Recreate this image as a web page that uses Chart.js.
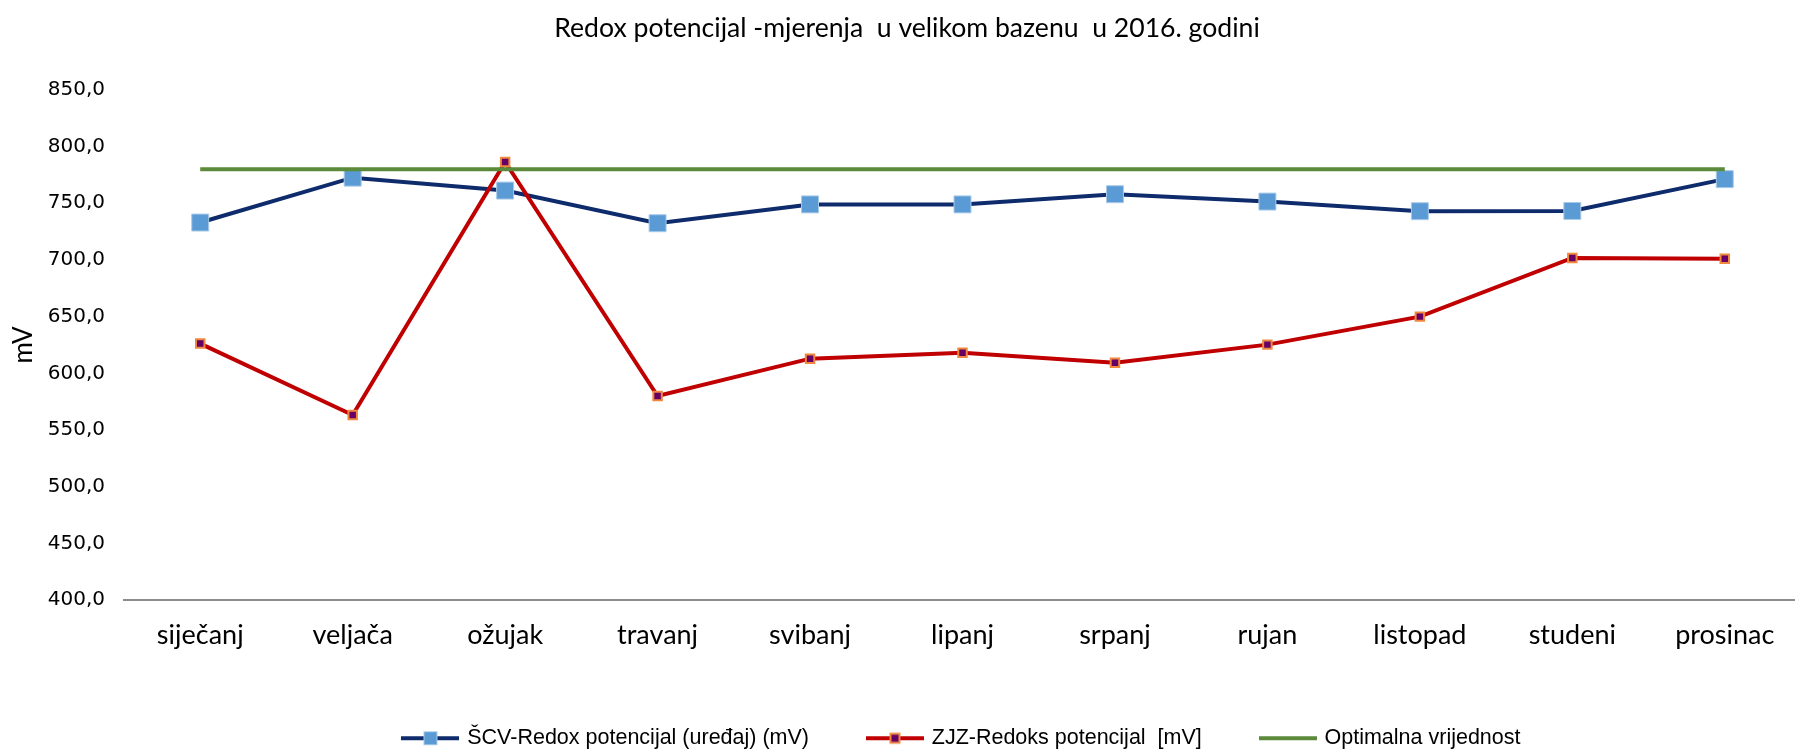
<!DOCTYPE html>
<html lang="hr">
<head>
  <meta charset="UTF-8">
  <title>Redox potencijal - veliki bazen 2016</title>
  <script src="https://cdn.jsdelivr.net/npm/chart.js"></script>
  <style>
    html, body { margin: 0; padding: 0; background: #ffffff; overflow: hidden; }
    .wrap { width: 1814px; height: 750px; }
  </style>
</head>
<body>
  <div class="wrap"><canvas id="redoxChart" width="1814" height="750"></canvas></div>

  <script>
    // Data
    const months = ['siječanj', 'veljača', 'ožujak', 'travanj', 'svibanj', 'lipanj',
                    'srpanj', 'rujan', 'listopad', 'studeni', 'prosinac'];
    const scvRedox = [733.0, 772.6, 761.2, 732.4, 749.0, 749.0, 758.0, 751.5, 743.0, 743.2, 771.3];
    const zjzRedox = [626.2, 563.2, 786.5, 580.0, 612.9, 618.2, 609.4, 625.3, 650.0, 701.8, 701.0];
    const optimum  = [780, 780, 780, 780, 780, 780, 780, 780, 780, 780, 780];
    const yMin = 400, yMax = 850, yStep = 50;

    const seriesNames = ['ŠCV-Redox potencijal (uređaj) (mV)', 'ZJZ-Redoks potencijal  [mV]', 'Optimalna vrijednost'];

    // little line + marker pictures for the legend
    function legendSample(lineColor, fill, stroke, side, strokeW) {
      const c = document.createElement('canvas');
      c.width = 58; c.height = 18;
      const g = c.getContext('2d');
      g.strokeStyle = lineColor;
      g.lineWidth = 4;
      g.beginPath(); g.moveTo(0, 9); g.lineTo(58, 9); g.stroke();
      if (side) {
        g.fillStyle = fill;
        g.fillRect(29 - side / 2, 9 - side / 2, side, side);
        g.strokeStyle = stroke;
        g.lineWidth = strokeW;
        g.strokeRect(29 - side / 2, 9 - side / 2, side, side);
      }
      return c;
    }
    const samples = [
      legendSample('#0e2b6c', '#5b9bd5', '#a9cbe9', 13, 1),
      legendSample('#c00000', '#660066', '#f0883e', 9, 2),
      legendSample('#5a8a3a', null, null, 0, 0)
    ];

    // nudge legend down a little, like the original
    const legendNudge = {
      id: 'legendNudge',
      afterLayout(chart) {
        chart.legend.top += 9;
        chart.legend.bottom += 9;
      }
    };

    Chart.defaults.color = '#000000';
    Chart.defaults.animation = false;

    new Chart(document.getElementById('redoxChart'), {
      type: 'line',
      data: {
        labels: months,
        datasets: [
          {
            label: seriesNames[0],
            data: scvRedox,
            borderColor: '#0e2b6c',
            borderWidth: 4,
            pointStyle: 'rect',
            pointRadius: 12,
            pointBackgroundColor: '#5b9bd5',
            pointBorderColor: '#a9cbe9',
            pointBorderWidth: 1,
            tension: 0,
            order: 3
          },
          {
            label: seriesNames[1],
            data: zjzRedox,
            borderColor: '#c00000',
            borderWidth: 4,
            pointStyle: 'rect',
            pointRadius: 6,
            pointBackgroundColor: '#660066',
            pointBorderColor: '#f0883e',
            pointBorderWidth: 2,
            tension: 0,
            order: 2
          },
          {
            label: seriesNames[2],
            data: optimum,
            borderColor: '#5a8a3a',
            borderWidth: 4,
            pointRadius: 0,
            tension: 0,
            order: 1
          }
        ]
      },
      options: {
        responsive: false,
        devicePixelRatio: 1,
        layout: { padding: 0 },
        plugins: {
          title: {
            display: true,
            text: 'Redox potencijal -mjerenja  u velikom bazenu  u 2016. godini',
            font: { family: 'Lato', size: 26.6, weight: 'normal' },
            color: '#000000',
            padding: { top: 12, bottom: 46 }
          },
          legend: {
            position: 'bottom',
            fullSize: false,
            labels: {
              usePointStyle: true,
              pointStyleWidth: 52,
              padding: 60,
              font: { family: "'Liberation Sans', Arial", size: 21.5 },
              color: '#000000',
              generateLabels: chart => chart.data.datasets.map((ds, i) => ({
                text: ds.label,
                pointStyle: samples[i],
                datasetIndex: i,
                hidden: false,
                lineWidth: 0,
                strokeStyle: 'rgba(0,0,0,0)',
                fillStyle: 'rgba(0,0,0,0)',
                fontColor: '#000000'
              }))
            }
          },
          tooltip: { enabled: false }
        },
        scales: {
          x: {
            offset: true,
            grid: { display: false, drawTicks: false },
            border: { display: true, color: '#8c8c8c', width: 2 },
            ticks: {
              padding: 19,
              font: { family: 'Lato', size: 27 },
              color: '#000000'
            },
            afterFit: s => { s.height = 58.5; }
          },
          y: {
            min: yMin,
            max: yMax,
            grid: { display: false, drawTicks: false },
            border: { display: false },
            ticks: {
              stepSize: yStep,
              padding: 19,
              font: { family: 'DejaVu Sans', size: 20 },
              color: '#000000',
              callback: v => v.toFixed(1).replace('.', ',')
            },
            title: {
              display: true,
              text: 'mV',
              font: { family: 'Lato', size: 26 },
              color: '#000000',
              padding: { top: 8, bottom: 0 }
            },
            afterFit: s => { s.width = 124; }
          }
        }
      },
      plugins: [legendNudge]
    });
  </script>
</body>
</html>
